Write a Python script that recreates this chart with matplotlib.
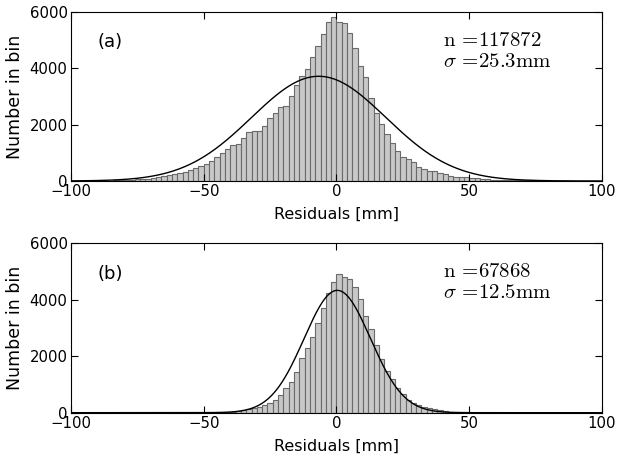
import matplotlib
matplotlib.use('Agg')
import matplotlib.pyplot as plt
import numpy as np

# Bin edges: 2 mm bins from -100 to 100 mm
bin_left = np.arange(-100, 100, 2)

# (a) counts per bin
counts_a = [
    4, 5, 6, 7, 8, 10, 12, 15, 20, 25, 35, 45,
    60, 70, 80, 105, 130, 180, 210, 250, 270, 310, 390, 450, 545,
    600, 700, 850, 1000, 1140, 1280, 1330, 1512, 1725, 1778,
    1778, 1960, 2222, 2410, 2618,
    2650, 3025, 3415, 3740, 3980, 4390, 4800, 5230, 5645, 5830,
    5650, 5600, 5270, 4705, 4080, 3700, 2935, 2400, 2010, 1670,
    1360, 1065, 865, 770, 660, 510, 415, 345, 345, 270,
    250, 180, 155, 130, 130, 95, 95, 70,
    60, 50, 45, 40, 35, 30, 25, 22, 20, 18, 15,
    13, 12, 10, 10, 9, 8, 8, 7, 6, 6, 5,
]

# (b) counts per bin
counts_b = [
    0, 0, 0, 0, 0, 0, 0, 0, 0, 0, 0, 0,
    0, 0, 0, 0, 0, 0, 0, 0, 0, 1,
    2, 3, 4, 6, 8, 12, 18, 28, 40, 60, 85,
    120, 160, 213, 272, 354, 449, 626, 862, 1075, 1429,
    1925, 2279, 2693, 3189, 3697, 4228, 4641, 4913,
    4818, 4724, 4450, 4027, 3425, 2950, 2397, 1901, 1488, 1181,
    886, 661, 449, 331, 272, 213, 160, 120, 80, 55,
    40, 25, 15, 10, 6, 4, 3, 2, 1, 1,
    0, 0, 0, 0, 0, 0, 0, 0, 0, 0,
    0, 0, 0, 0, 0, 0, 0, 0, 0, 0,
]

# Gaussian fit parameters (n, mean, sigma)
fit_a = (117872, -6.7, 25.3)
fit_b = (67868, 0.3, 12.5)
labels = ['(a)', '(b)']
bin_width = 2.0

plt.rcParams['font.family'] = 'DejaVu Sans'
plt.rcParams['mathtext.fontset'] = 'cm'
plt.rcParams['font.size'] = 11

fig = plt.figure(figsize=(6.19, 4.59), dpi=100)
ax_a = fig.add_axes([0.1147, 0.6057, 0.8578, 0.3682])
ax_b = fig.add_axes([0.1147, 0.1009, 0.8578, 0.3691])


def draw_panel(ax, counts, fit, label):
    ax.bar(bin_left, counts[:len(bin_left)], width=bin_width, align='edge',
           color='#c8c8c8', edgecolor='#6a6a6a', linewidth=0.8)
    n, mu, sigma = fit
    x = np.linspace(-100, 100, 801)
    y = n * bin_width / (sigma * np.sqrt(2 * np.pi)) * np.exp(-0.5 * ((x - mu) / sigma) ** 2)
    ax.plot(x, y, color='black', linewidth=1.0)

    ax.set_xlim(-100, 100)
    ax.set_ylim(0, 6000)
    ax.set_xticks([-100, -50, 0, 50, 100])
    ax.set_yticks([0, 2000, 4000, 6000])
    ax.tick_params(direction='in', top=True, right=True, length=5, width=0.8,
                   labelsize=10.7, pad=2.5)
    ax.set_xlabel('Residuals [mm]', fontsize=11.5, labelpad=5.5)
    ax.set_ylabel('Number in bin', fontsize=12.5, labelpad=4)
    ax.text(0.05, 0.82, label, transform=ax.transAxes, fontsize=13, va='center')
    ax.text(0.70, 0.835, r'$\mathrm{n}\,=\!%d$' % n, transform=ax.transAxes,
            fontsize=15, va='center')
    ax.text(0.70, 0.71, r'$\sigma\,=\!%.1f\mathrm{mm}$' % sigma, transform=ax.transAxes,
            fontsize=15, va='center')


draw_panel(ax_a, counts_a, fit_a, labels[0])
draw_panel(ax_b, counts_b, fit_b, labels[1])

fig.savefig('out.png', dpi=100, facecolor='white')
